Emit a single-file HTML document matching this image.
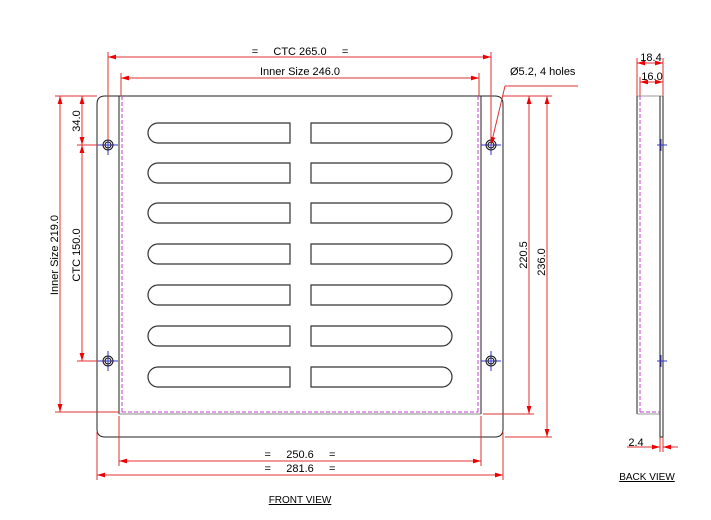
<!DOCTYPE html>
<html><head><meta charset="utf-8"><style>
html,body{margin:0;padding:0;background:#fff;}
svg{display:block;}
text{font-family:"Liberation Sans",Arial,sans-serif;font-size:11px;fill:#000;}
</style></head><body>
<svg width="711" height="520" viewBox="0 0 711 520" xmlns="http://www.w3.org/2000/svg">
<defs>
<marker id="a" viewBox="0 0 10 6" refX="10" refY="3" markerWidth="8" markerHeight="5" orient="auto-start-reverse" markerUnits="userSpaceOnUse"><path d="M0,0 L10,3 L0,6 z" fill="#e00"/></marker>
</defs>
<g fill="none" stroke="#222" stroke-width="1">
<path d="M105,96 H495 Q503,96 503,104 V429 Q503,437 495,437 H105 Q97,437 97,429 V104 Q97,96 105,96 Z"/>
<line x1="119" y1="96" x2="119" y2="414"/>
<line x1="481" y1="96" x2="481" y2="414"/>
<line x1="119" y1="414" x2="481" y2="414" stroke="#888"/>
</g>
<g fill="none" stroke="#c040d0" stroke-width="1" stroke-dasharray="4,2">
<line x1="122" y1="96" x2="122" y2="412"/>
<line x1="478" y1="96" x2="478" y2="412"/>
<line x1="122" y1="412" x2="478" y2="412"/>
</g>
<g fill="none" stroke="#333" stroke-width="1.2">
<path d="M290,123 H158 A10,10 0 0 0 158,143 H290 Z"/>
<path d="M311,123 H442 A10,10 0 0 1 442,143 H311 Z"/>
<path d="M290,163 H158 A10,10 0 0 0 158,183 H290 Z"/>
<path d="M311,163 H442 A10,10 0 0 1 442,183 H311 Z"/>
<path d="M290,203 H158 A10,10 0 0 0 158,223 H290 Z"/>
<path d="M311,203 H442 A10,10 0 0 1 442,223 H311 Z"/>
<path d="M290,244 H158 A10,10 0 0 0 158,264 H290 Z"/>
<path d="M311,244 H442 A10,10 0 0 1 442,264 H311 Z"/>
<path d="M290,285 H158 A10,10 0 0 0 158,305 H290 Z"/>
<path d="M311,285 H442 A10,10 0 0 1 442,305 H311 Z"/>
<path d="M290,326 H158 A10,10 0 0 0 158,346 H290 Z"/>
<path d="M311,326 H442 A10,10 0 0 1 442,346 H311 Z"/>
<path d="M290,367 H158 A10,10 0 0 0 158,387 H290 Z"/>
<path d="M311,367 H442 A10,10 0 0 1 442,387 H311 Z"/>
</g>
<g fill="none">
<g transform="translate(108,145)"><line x1="-10" y1="0" x2="10" y2="0" stroke="#33c"/><line x1="0" y1="-10" x2="0" y2="10" stroke="#33c"/><circle r="5" stroke="#111"/><circle r="3" stroke="#111"/></g>
<g transform="translate(491,145)"><line x1="-10" y1="0" x2="10" y2="0" stroke="#33c"/><line x1="0" y1="-10" x2="0" y2="10" stroke="#33c"/><circle r="5" stroke="#111"/><circle r="3" stroke="#111"/></g>
<g transform="translate(108,361)"><line x1="-10" y1="0" x2="10" y2="0" stroke="#33c"/><line x1="0" y1="-10" x2="0" y2="10" stroke="#33c"/><circle r="5" stroke="#111"/><circle r="3" stroke="#111"/></g>
<g transform="translate(491,361)"><line x1="-10" y1="0" x2="10" y2="0" stroke="#33c"/><line x1="0" y1="-10" x2="0" y2="10" stroke="#33c"/><circle r="5" stroke="#111"/><circle r="3" stroke="#111"/></g>
</g>
<g stroke="#e03030" stroke-width="1" fill="none">
<line x1="108" y1="52" x2="108" y2="140"/><line x1="491" y1="52" x2="491" y2="140"/>
<line x1="108" y1="57" x2="491" y2="57" marker-start="url(#a)" marker-end="url(#a)"/>
<line x1="121" y1="73" x2="121" y2="96"/><line x1="479" y1="73" x2="479" y2="96"/>
<line x1="121" y1="78" x2="479" y2="78" marker-start="url(#a)" marker-end="url(#a)"/>
<line x1="491" y1="145" x2="505" y2="86" marker-start="url(#a)"/>
<line x1="505" y1="86" x2="578" y2="86"/>
<line x1="503" y1="96" x2="552" y2="96"/>
<line x1="483" y1="414" x2="534" y2="414"/>
<line x1="505" y1="437" x2="552" y2="437"/>
<line x1="529" y1="96" x2="529" y2="414" marker-start="url(#a)" marker-end="url(#a)"/>
<line x1="547" y1="96" x2="547" y2="437" marker-start="url(#a)" marker-end="url(#a)"/>
<line x1="55" y1="96" x2="97" y2="96"/>
<line x1="55" y1="412" x2="119" y2="412"/>
<line x1="60" y1="96" x2="60" y2="412" marker-start="url(#a)" marker-end="url(#a)"/>
<line x1="77" y1="145" x2="98" y2="145"/>
<line x1="77" y1="361" x2="98" y2="361"/>
<line x1="82" y1="96" x2="82" y2="145" marker-start="url(#a)" marker-end="url(#a)"/>
<line x1="82" y1="145" x2="82" y2="361" marker-start="url(#a)" marker-end="url(#a)"/>
<line x1="119" y1="416" x2="119" y2="466"/><line x1="481" y1="416" x2="481" y2="466"/>
<line x1="119" y1="461" x2="481" y2="461" marker-start="url(#a)" marker-end="url(#a)"/>
<line x1="97" y1="432" x2="97" y2="480"/><line x1="503" y1="432" x2="503" y2="480"/>
<line x1="97" y1="475" x2="503" y2="475" marker-start="url(#a)" marker-end="url(#a)"/>
<line x1="637" y1="58" x2="637" y2="96"/><line x1="663" y1="58" x2="663" y2="96"/>
<line x1="640" y1="77" x2="640" y2="96"/>
<line x1="637" y1="63" x2="663" y2="63" marker-start="url(#a)" marker-end="url(#a)"/>
<line x1="640" y1="82" x2="663" y2="82" marker-start="url(#a)" marker-end="url(#a)"/>
<line x1="660" y1="437" x2="660" y2="452"/><line x1="663" y1="437" x2="663" y2="452"/>
<line x1="627" y1="447" x2="660" y2="447" marker-end="url(#a)"/>
<line x1="678" y1="447" x2="663" y2="447" marker-end="url(#a)"/>
</g>
<g fill="none" stroke="#222" stroke-width="1">
<line x1="637" y1="96" x2="663" y2="96" stroke="#999"/>
<line x1="637" y1="96" x2="637" y2="414"/>
<line x1="637" y1="414" x2="660" y2="414" stroke="#999"/>
<line x1="660" y1="96" x2="660" y2="437"/>
<line x1="663" y1="96" x2="663" y2="437"/>
<line x1="660" y1="437" x2="663" y2="437"/>
</g>
<g stroke="#c040d0" stroke-dasharray="4,2" fill="none">
<line x1="640" y1="96" x2="640" y2="412"/><line x1="640" y1="412" x2="660" y2="412"/>
</g>
<g stroke="#33c"><line x1="657" y1="145" x2="667" y2="145"/><line x1="661" y1="139" x2="661" y2="151"/><line x1="657" y1="361" x2="667" y2="361"/><line x1="661" y1="355" x2="661" y2="367"/></g>
<text x="300" y="55" text-anchor="middle" xml:space="preserve">=     CTC 265.0     =</text>
<text x="300" y="75" text-anchor="middle">Inner Size 246.0</text>
<text x="510" y="75">Ø5.2, 4 holes</text>
<text transform="translate(527,255) rotate(-90)" text-anchor="middle">220.5</text>
<text transform="translate(545,262) rotate(-90)" text-anchor="middle">236.0</text>
<text transform="translate(58,255) rotate(-90)" text-anchor="middle">Inner Size 219.0</text>
<text transform="translate(80,255) rotate(-90)" text-anchor="middle">CTC 150.0</text>
<text transform="translate(80,121) rotate(-90)" text-anchor="middle">34.0</text>
<text x="300" y="458" text-anchor="middle" xml:space="preserve">=     250.6     =</text>
<text x="300" y="472" text-anchor="middle" xml:space="preserve">=     281.6     =</text>
<text x="300" y="503" text-anchor="middle" style="font-size:10px;text-decoration:underline">FRONT VIEW</text>
<text x="651" y="61" text-anchor="middle">18.4</text>
<text x="652" y="80" text-anchor="middle">16.0</text>
<text x="636" y="446" text-anchor="middle">2.4</text>
<text x="647" y="480" text-anchor="middle" style="font-size:10px;text-decoration:underline">BACK VIEW</text>
</svg>
</body></html>
